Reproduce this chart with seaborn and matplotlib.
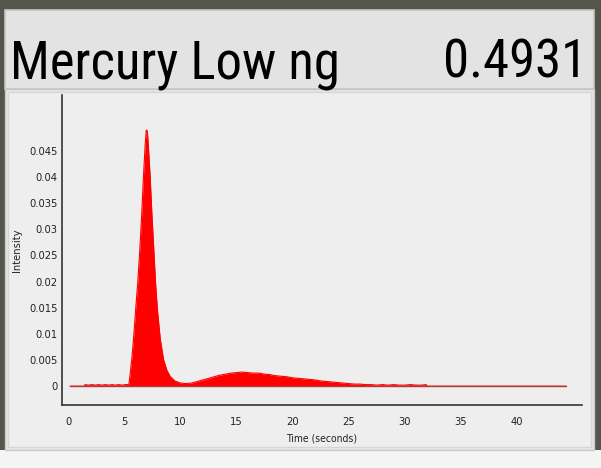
import numpy as np
import pandas as pd
import matplotlib
matplotlib.use('Agg')
import matplotlib.pyplot as plt
import seaborn as sns
from matplotlib.patches import Rectangle
from matplotlib import font_manager

time_s = [0.15, 1.4, 1.5, 1.8, 2.1, 2.4, 2.7, 3.0, 3.3, 3.6, 3.9, 4.2, 4.5, 4.8, 5.1, 5.4,
          5.5, 5.6, 5.7, 5.85, 6.0, 6.2, 6.4, 6.55, 6.7, 6.85, 6.95, 7.05, 7.15, 7.3,
          7.45, 7.6, 7.8, 7.95, 8.2, 8.5, 8.8, 9.1, 9.5, 10.0, 10.5, 11.0, 11.5, 12.0,
          12.5, 13.0, 13.5, 14.0, 14.5, 15.0, 15.5, 16.0, 16.5, 17.0, 17.5, 18.0, 18.5,
          19.0, 19.5, 20.0, 20.5, 21.0, 21.5, 22.0, 22.5, 23.0, 23.5, 24.0, 24.5, 25.0,
          25.5, 26.0, 26.5, 27.0, 27.5, 28.0, 28.5, 29.0, 29.5, 30.0, 30.5, 31.0, 31.5,
          31.9, 32.0, 44.4]
intensity = [0.0, 0.0, 0.0003, 0.0002, 0.0003, 0.0002, 0.0003, 0.0002, 0.0003, 0.0002,
             0.0003, 0.0002, 0.0003, 0.0002, 0.0003, 0.0003,
             0.0020, 0.0040, 0.0060, 0.0100, 0.0145, 0.0200, 0.0270, 0.0330, 0.0400,
             0.0460, 0.0490, 0.0488, 0.0455, 0.0400, 0.0330, 0.0270, 0.0190, 0.0145,
             0.0090, 0.0050, 0.0030, 0.0018, 0.0010, 0.0006, 0.0005, 0.0006, 0.0009,
             0.0012, 0.0015, 0.0018, 0.0021, 0.0023, 0.0025, 0.0026, 0.0027, 0.0026,
             0.0025, 0.0025, 0.0023, 0.0022, 0.0020, 0.0019, 0.0018, 0.0016, 0.0015,
             0.0014, 0.0013, 0.0012, 0.0010, 0.0009, 0.0008, 0.0007, 0.0006, 0.0005,
             0.0004, 0.0004, 0.0003, 0.0003, 0.0002, 0.0003, 0.0002, 0.0003, 0.0002,
             0.0002, 0.0003, 0.0002, 0.0002, 0.0003, 0.0, 0.0]
x_ticks = [0, 5, 10, 15, 20, 25, 30, 35, 40]
y_ticks = [0, 0.005, 0.01, 0.015, 0.02, 0.025, 0.03, 0.035, 0.04, 0.045]
y_tick_labels = ['0', '0.005', '0.01', '0.015', '0.02', '0.025', '0.03', '0.035', '0.04', '0.045']
title_text = 'Mercury Low ng'
result_text = '0.4931'

df = pd.DataFrame({'Time': time_s, 'Intensity': intensity})

sns.set_style('white')
plt.rcParams['font.family'] = ['DejaVu Sans']
plt.rcParams['font.stretch'] = 'condensed'

# fuente estrecha para el encabezado, si existe
installed = {f.name for f in font_manager.fontManager.ttflist}
title_kw = dict(family=['DejaVu Sans'], fontstretch='condensed', fontsize=35)
for name, size in [('Liberation Sans Narrow', 44), ('Arial Narrow', 44),
                   ('Roboto Condensed', 38)]:
    if name in installed:
        title_kw = dict(family=[name, 'DejaVu Sans'], fontsize=size)
        break

W, H = 601, 468
fig = plt.figure(figsize=(W / 100, H / 100), dpi=100)
fig.patch.set_facecolor('#55554c')

def px_rect(x0, y0, x1, y1, fc, ec='none', lw=1.0):
    # rectangulo en pixeles (origen arriba a la izquierda)
    r = Rectangle((x0 / W, 1 - y1 / H), (x1 - x0) / W, (y1 - y0) / H,
                  transform=fig.transFigure, facecolor=fc, edgecolor=ec,
                  linewidth=lw, zorder=-10)
    fig.patches.append(r)

# paneles de la pantalla
px_rect(0, 450, W, H, '#f4f4f4')
px_rect(5, 10, 594, 89, '#e3e3e3', '#c6c6c6', 1.2)
px_rect(5, 89, 594, 450, '#e6e6e6', '#c9c9c9', 1.0)
px_rect(8, 92, 591, 447, '#eeeeee', '#d6d6d6', 1.0)

fig.text(10 / W, 1 - 78 / H, title_text, color='black', ha='left',
         va='baseline', **title_kw)
fig.text(587 / W, 1 - 78 / H, result_text, color='black', ha='right',
         va='baseline', **title_kw)

ax = fig.add_axes([62 / W, 1 - 405 / H, (582 - 62) / W, (405 - 95) / H])
ax.set_facecolor('none')

sns.lineplot(data=df, x='Time', y='Intensity', ax=ax, color='#ff0000',
             linewidth=0.8, estimator=None)
ax.fill_between(df['Time'], 0, df['Intensity'], color='#ff0000', linewidth=0)
ax.plot([time_s[0], time_s[-1]], [0, 0], color='#b03a3a', linewidth=1.0)

ax.set_xlim(-0.56, 45.8)
ax.set_ylim(-0.0036, 0.0557)
ax.set_xticks(x_ticks)
ax.set_yticks(y_ticks)
ax.set_yticklabels(y_tick_labels)

for side in ['top', 'right']:
    ax.spines[side].set_visible(False)
for side in ['left', 'bottom']:
    ax.spines[side].set_color('#333333')
    ax.spines[side].set_linewidth(1.2)

ax.tick_params(axis='both', direction='out', width=1, color='#444444',
               labelsize=8, labelcolor='#222222')
ax.tick_params(axis='x', length=5, pad=3.5)
ax.tick_params(axis='y', length=2.2, pad=1)
ax.set_xlabel('Time (seconds)', fontsize=7.5, color='#222222', labelpad=5)
ax.set_ylabel('Intensity', fontsize=8, color='#222222', labelpad=5)

fig.savefig('out.png', dpi=100, facecolor=fig.get_facecolor())
